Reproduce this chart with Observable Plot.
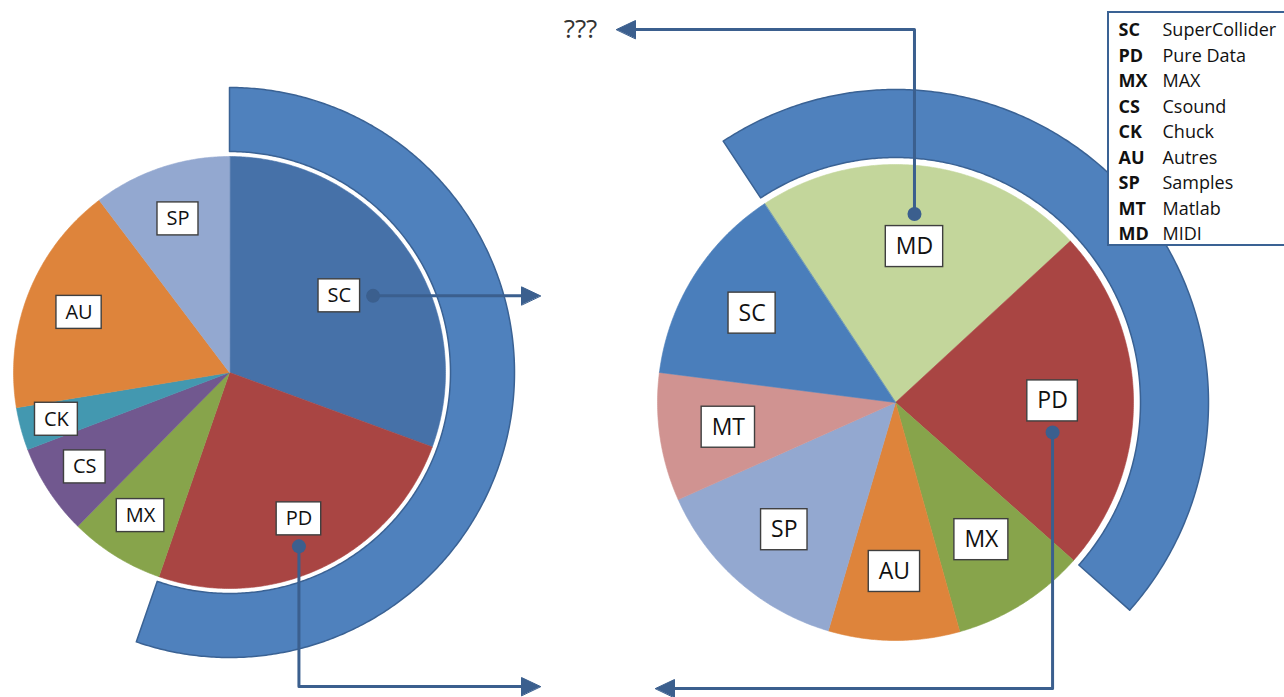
<!DOCTYPE html>
<html><head><meta charset="utf-8">
<script src="https://cdn.jsdelivr.net/npm/d3@7"></script>
<script src="https://cdn.jsdelivr.net/npm/@observablehq/plot@0.6"></script>
<style>html,body{margin:0;padding:0;background:#fff;overflow:hidden}</style>
</head><body><div id="chart"></div>
<script>
// ---------- DATA ----------
const leftCodes  = ["SC", "PD", "MX", "CS", "CK", "AU", "SP"];
const leftShares = [30.6, 24.7, 7.1, 6.8, 3.2, 17.3, 10.3];
const leftHighlight = ["SC", "PD"];

const rightCodes  = ["MD", "PD", "MX", "AU", "SP", "MT", "SC"];
const rightShares = [22.4, 23.4, 9.1, 8.9, 13.75, 8.7, 13.7];
const rightHighlight = ["MD", "PD"];

const legendCodes = ["SC", "PD", "MX", "CS", "CK", "AU", "SP", "MT", "MD"];
const legendNames = ["SuperCollider", "Pure Data", "MAX", "Csound", "Chuck", "Autres", "Samples", "Matlab", "MIDI"];

const unknownLabel = "???";

// ---------- STYLES / LAYOUT ----------
const leftColors  = {SC:"#4671A8", PD:"#A94543", MX:"#87A44B", CS:"#71588F", CK:"#4398B0", AU:"#DE843B", SP:"#93A8D0"};
const rightColors = {MD:"#C3D69B", PD:"#A94543", MX:"#87A44B", AU:"#DE843B", SP:"#93A8D0", MT:"#D09391", SC:"#4A7EBB"};
const RING_FILL = "#4F81BD", RING_STROKE = "#3A6294";
const ARROW = "#3B5F8E";
const FONT = "Open Sans";
const W = 1284, H = 697;

const pies = [
  {id:"L", codes:leftCodes, shares:leftShares, colors:leftColors, highlight:leftHighlight,
   cx:229, cy:372, r:216, ringIn:221, ringOut:285, start:0, labelR:0.75, font:20, boxH:33, pad:9,
   labelROverride:{SC:0.62, CK:0.83, CS:0.8, MX:0.78}},
  {id:"R", codes:rightCodes, shares:rightShares, colors:rightColors, highlight:rightHighlight,
   cx:895, cy:402, r:238, ringIn:245, ringOut:313, start:-33.4, labelR:0.71, font:23, boxH:41, pad:10,
   labelROverride:{MD:0.66, PD:0.66, MX:0.68}}
];

// arrows: which label, where the dot sits, and the route
const arrowSpecs = [
  {pie:"L", code:"SC", dot:"right", turn:null, tip:{x:540}, dir:"right"},
  {pie:"L", code:"PD", dot:"below", turn:686, tip:{x:540}, dir:"right"},
  {pie:"R", code:"MD", dot:"above", turn:29,  tip:{x:616}, dir:"left"},
  {pie:"R", code:"PD", dot:"below", turn:688, tip:{x:655}, dir:"left"}
];

// ---------- GEOMETRY ----------
const rad = d => d * Math.PI / 180;
function pt(p, r, deg) { return {x: p.cx + r * Math.sin(rad(deg)), y: p.cy - r * Math.cos(rad(deg))}; }
function arcPts(p, r, a0, a1) {
  const n = Math.max(2, Math.ceil(Math.abs(a1 - a0) / 0.5));
  const out = [];
  for (let i = 0; i <= n; i++) out.push(pt(p, r, a0 + (a1 - a0) * i / n));
  return out;
}
const ctx = document.createElement("canvas").getContext("2d");
function textW(t, size, weight="normal") { ctx.font = `${weight} ${size}px "${FONT}"`; return ctx.measureText(t).width; }

const slicePts = [], ringPts = [], labels = [];
for (const p of pies) {
  const total = d3.sum(p.shares);
  let acc = p.start;
  p.angles = {};
  p.codes.forEach((c, i) => {
    const a0 = acc, a1 = acc + p.shares[i] / total * 360;
    acc = a1;
    p.angles[c] = [a0, a1];
    const key = p.id + "-" + c, color = p.colors[c];
    slicePts.push({...pt(p, 0, 0), key, color});
    for (const q of arcPts(p, p.r, a0, a1)) slicePts.push({...q, key, color});
    const f = p.labelROverride[c] ?? p.labelR;
    const lp = pt(p, p.r * f, (a0 + a1) / 2);
    const w = textW(c, p.font) + 2 * p.pad;
    labels.push({pie:p.id, code:c, x:lp.x, y:lp.y, w, h:p.boxH, font:p.font});
  });
  const h0 = p.angles[p.highlight[0]][0], h1 = p.angles[p.highlight[p.highlight.length - 1]][1];
  const key = p.id + "-ring";
  for (const q of arcPts(p, p.ringOut, h0, h1)) ringPts.push({...q, key});
  for (const q of arcPts(p, p.ringIn, h1, h0)) ringPts.push({...q, key});
}

const arrowLines = [], arrowHeads = [], dots = [];
const HEAD_L = 19, HEAD_W = 9;
arrowSpecs.forEach((a, i) => {
  const lb = labels.find(l => l.pie === a.pie && l.code === a.code);
  let d;
  if (a.dot === "right") d = {x: lb.x + lb.w / 2 + 13, y: lb.y};
  else if (a.dot === "below") d = {x: lb.x, y: lb.y + lb.h / 2 + 11};
  else d = {x: lb.x, y: lb.y - lb.h / 2 - 12};
  dots.push(d);
  const yEnd = a.turn ?? d.y;
  const sgn = a.dir === "right" ? 1 : -1;
  const tip = {x: a.tip.x, y: yEnd};
  const base = {x: tip.x - sgn * HEAD_L, y: yEnd};
  const key = "a" + i;
  const path = [d];
  if (a.turn != null) path.push({x: d.x, y: a.turn});
  path.push(base);
  path.forEach(q => arrowLines.push({...q, key}));
  arrowHeads.push({...tip, key}, {x: base.x, y: yEnd - HEAD_W, key}, {x: base.x, y: yEnd + HEAD_W, key});
});

// legend layout
const LG = {x1:1108, x2:1292, y1:12, y2:245, codeX:1118, nameX:1162, row0:30, step:25.5, font:18};
const legendRows = legendCodes.map((c, i) => ({code:c, name:legendNames[i], y: LG.row0 + i * LG.step}));
const qTip = arrowSpecs[2];

const chart = Plot.plot({
  width: W, height: H, margin: 0,
  x: {domain: [0, W], range: [0, W], axis: null},
  y: {domain: [0, H], range: [0, H], axis: null},
  color: {type: "identity"},
  style: {background: "white", fontFamily: FONT},
  marks: [
    Plot.line(ringPts, {x: "x", y: "y", z: "key", fill: RING_FILL, stroke: RING_STROKE, strokeWidth: 1.5, curve: "linear-closed"}),
    Plot.line(slicePts, {x: "x", y: "y", z: "key", fill: "color", stroke: "color", strokeWidth: 0.6, curve: "linear-closed"}),
    Plot.line(arrowLines, {x: "x", y: "y", z: "key", stroke: ARROW, strokeWidth: 3}),
    Plot.line(arrowHeads, {x: "x", y: "y", z: "key", fill: ARROW, stroke: ARROW, strokeWidth: 1, curve: "linear-closed"}),
    Plot.dot(dots, {x: "x", y: "y", r: 7, fill: ARROW}),
    Plot.rect(labels, {x1: d => d.x - d.w / 2, x2: d => d.x + d.w / 2, y1: d => d.y - d.h / 2, y2: d => d.y + d.h / 2,
      fill: "white", stroke: "#3f3f3f", strokeWidth: 1.4}),
    Plot.text(labels, {x: "x", y: "y", text: "code", fontSize: d => d.font, fill: "#111", fontFamily: FONT}),
    Plot.text([unknownLabel], {x: () => qTip.tip.x - 36, y: () => qTip.turn, text: d => d, fontSize: 26, fill: "#333", fontFamily: FONT}),
    Plot.rect([LG], {x1: "x1", x2: "x2", y1: "y1", y2: "y2", fill: "white", stroke: "#3A6294", strokeWidth: 2}),
    Plot.text(legendRows, {x: LG.codeX, y: "y", text: "code", textAnchor: "start", fontWeight: "bold", fontSize: LG.font, fill: "#111", fontFamily: FONT}),
    Plot.text(legendRows, {x: LG.nameX, y: "y", text: "name", textAnchor: "start", fontSize: LG.font, fill: "#111", fontFamily: FONT})
  ]
});
document.getElementById("chart").appendChild(chart);
</script>
</body></html>
